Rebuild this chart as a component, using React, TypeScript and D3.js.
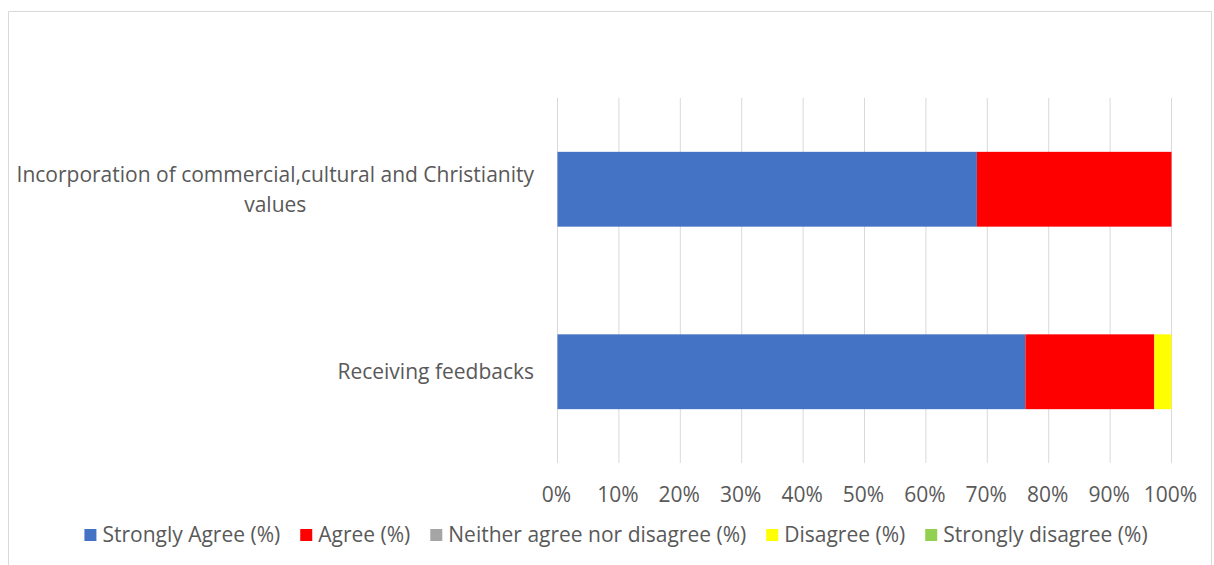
import React from "react";
import * as d3 from "d3";

const categories = ["Incorporation of commercial,cultural and Christianity values", "Receiving feedbacks"];
const categoryLines = [["Incorporation of commercial,cultural and Christianity", "values"], ["Receiving feedbacks"]];
const seriesNames = ["Strongly Agree (%)", "Agree (%)", "Neither agree nor disagree (%)", "Disagree (%)", "Strongly disagree (%)"];
const seriesColors = ["#4472C4", "#FF0000", "#A5A5A5", "#FFFF00", "#92D050"];
const stronglyAgree = [68.3, 76.2];
const agree = [31.7, 21.0];
const neither = [0, 0];
const disagree = [0, 2.8];
const stronglyDisagree = [0, 0];
const tickValues = [0, 10, 20, 30, 40, 50, 60, 70, 80, 90, 100];

const W = 1214, H = 565;
const fontFamily = "'Open Sans', sans-serif";
const fontSize = 21;
const textColor = "#595959";

let ctx: CanvasRenderingContext2D | null = null;
function measure(s: string) {
  if (!ctx) ctx = document.createElement("canvas").getContext("2d");
  if (!ctx) return s.length * fontSize * 0.5;
  ctx.font = `${fontSize}px ${fontFamily}`;
  return ctx.measureText(s).width;
}

export default function App() {
  const series = [stronglyAgree, agree, neither, disagree, stronglyDisagree];
  const rows = categories.map((c, i) => {
    const r: any = { cat: c };
    seriesNames.forEach((s, k) => (r[s] = series[k][i]));
    return r;
  });
  const stack = d3.stack<any>().keys(seriesNames)(rows);
  const x = d3.scaleLinear().domain([0, 100]).range([557.5, 1171.5]);
  const y = d3.scaleBand().domain(categories).range([98, 463]).paddingInner(0.59).paddingOuter(0.295);

  // legend layout
  const itemWidths = seriesNames.map((s) => 12 + 6 + measure(s));
  const gap = 20;
  const total = d3.sum(itemWidths) + gap * (seriesNames.length - 1);
  const legendStart = 616 - total / 2;
  const legendX: number[] = [];
  let acc = legendStart;
  itemWidths.forEach((w) => {
    legendX.push(acc);
    acc += w + gap;
  });

  const labelRight = 534;

  return (
    <svg width={W} height={H} style={{ position: "absolute", left: 0, top: 0 }} fontFamily={fontFamily}>
      <rect x={0} y={0} width={W} height={H} fill="#fff" />
      <path d={`M8.5,${H} V11.5 H1211.5 V${H}`} fill="none" stroke="#d9d9d9" strokeWidth={1} />
      {tickValues.map((t) => (
        <line key={t} x1={x(t)} x2={x(t)} y1={98} y2={463} stroke="#d9d9d9" strokeWidth={1} />
      ))}
      {stack.map((layer, k) =>
        layer.map((d, i) => (
          <rect
            key={k + "-" + i}
            x={x(d[0])}
            y={y(categories[i])!}
            width={Math.max(0, x(d[1]) - x(d[0]))}
            height={y.bandwidth()}
            fill={seriesColors[k]}
          />
        ))
      )}
      {tickValues.map((t) => (
        <text key={t} x={x(t) - 1} y={502} textAnchor="middle" fontSize={fontSize} fill={textColor}>
          {d3.format("d")(t) + "%"}
        </text>
      ))}
      {categories.map((c, i) => {
        const lines = categoryLines[i];
        const cy = y(c)! + y.bandwidth() / 2;
        const maxW = d3.max(lines, (l) => measure(l)) || 0;
        const cx = labelRight - maxW / 2;
        return (
          <text key={c} textAnchor="middle" fontSize={fontSize} fill={textColor}>
            {lines.map((l, j) => (
              <tspan key={j} x={cx} y={cy + 7.5 + (j - (lines.length - 1) / 2) * 30}>
                {l}
              </tspan>
            ))}
          </text>
        );
      })}
      {seriesNames.map((s, k) => (
        <g key={s} transform={`translate(${legendX[k]},529)`}>
          <rect x={0} y={0} width={12} height={12} fill={seriesColors[k]} />
          <text x={18} y={13} fontSize={fontSize} fill={textColor}>{s}</text>
        </g>
      ))}
    </svg>
  );
}
